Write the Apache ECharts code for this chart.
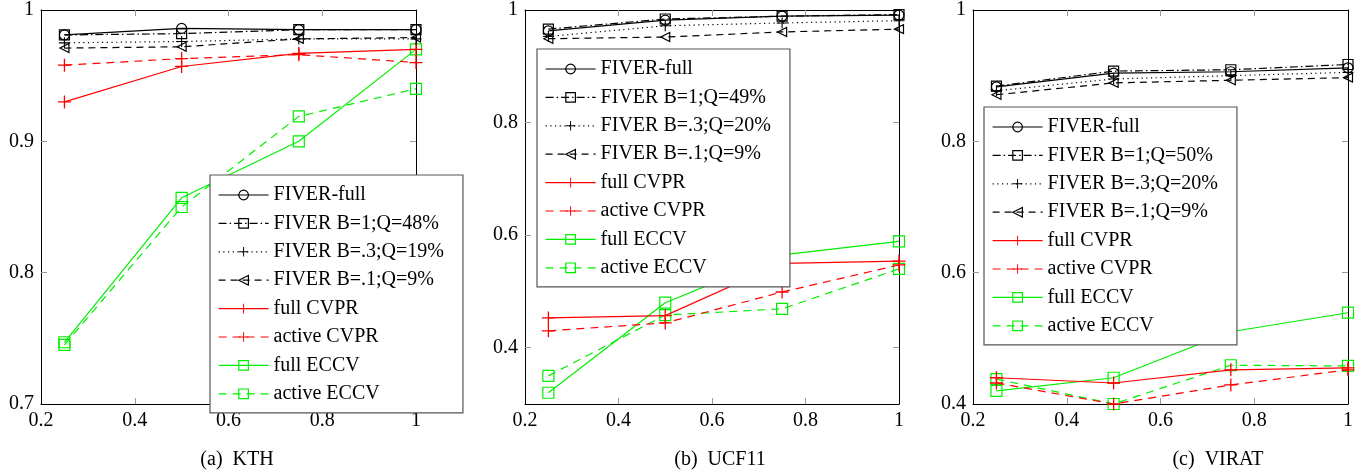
<!DOCTYPE html>
<html>
<head>
<meta charset="utf-8">
<script src="https://cdn.jsdelivr.net/npm/echarts@6/dist/echarts.min.js"></script>
<style>
  html, body { margin: 0; padding: 0; background: #fff; }
  #chart { width: 1370px; height: 475px; }
</style>
</head>
<body>
<div id="chart"></div>
<script>
// x 轴上的采样点
const xValues = [0.25, 0.5, 0.75, 1];
const xTickLabels = [0.2, 0.4, 0.6, 0.8, 1];

// (a) KTH
const kthNames = ["FIVER-full", "FIVER B=1;Q=48%", "FIVER B=.3;Q=19%", "FIVER B=.1;Q=9%",
  "full CVPR", "active CVPR", "full ECCV", "active ECCV"];
const kthFiverFull = [0.981, 0.986, 0.985, 0.985];
const kthB1 = [0.981, 0.982, 0.985, 0.985];
const kthB03 = [0.975, 0.976, 0.978, 0.978];
const kthB01 = [0.971, 0.972, 0.978, 0.979];
const kthFullCvpr = [0.930, 0.957, 0.967, 0.970];
const kthActiveCvpr = [0.958, 0.963, 0.966, 0.960];
const kthFullEccv = [0.747, 0.857, 0.900, 0.970];
const kthActiveEccv = [0.745, 0.850, 0.919, 0.940];
const kthYTicks = [0.7, 0.8, 0.9, 1];

// (b) UCF11
const ucfNames = ["FIVER-full", "FIVER B=1;Q=49%", "FIVER B=.3;Q=20%", "FIVER B=.1;Q=9%",
  "full CVPR", "active CVPR", "full ECCV", "active ECCV"];
const ucfFiverFull = [0.963, 0.982, 0.989, 0.991];
const ucfB1 = [0.966, 0.984, 0.989, 0.992];
const ucfB03 = [0.953, 0.972, 0.977, 0.981];
const ucfB01 = [0.949, 0.952, 0.961, 0.966];
const ucfFullCvpr = [0.453, 0.457, 0.550, 0.554];
const ucfActiveCvpr = [0.430, 0.444, 0.499, 0.547];
const ucfFullEccv = [0.320, 0.480, 0.565, 0.589];
const ucfActiveEccv = [0.350, 0.458, 0.469, 0.540];
const ucfYTicks = [0.4, 0.6, 0.8, 1];

// (c) VIRAT
const viratNames = ["FIVER-full", "FIVER B=1;Q=50%", "FIVER B=.3;Q=20%", "FIVER B=.1;Q=9%",
  "full CVPR", "active CVPR", "full ECCV", "active ECCV"];
const viratFiverFull = [0.883, 0.904, 0.906, 0.912];
const viratB1 = [0.884, 0.907, 0.909, 0.917];
const viratB03 = [0.877, 0.895, 0.900, 0.905];
const viratB01 = [0.871, 0.889, 0.893, 0.897];
const viratFullCvpr = [0.440, 0.432, 0.452, 0.455];
const viratActiveCvpr = [0.432, 0.400, 0.429, 0.452];
const viratFullEccv = [0.420, 0.440, 0.510, 0.539];
const viratActiveEccv = [0.438, 0.400, 0.459, 0.458];
const viratYTicks = [0.4, 0.6, 0.8, 1];

const captions = ["(a)  KTH", "(b)  UCF11", "(c)  VIRAT"];

const FONT = "Liberation Serif";
const FONT_SIZE = 20;
const PLUS = "path://M-0.6,-6H0.6V-0.6H6V0.6H0.6V6H-0.6V0.6H-6V-0.6H-0.6Z";
const TRI_LEFT = "path://M0,5L8.6,0L8.6,10Z";

// 每条曲线的样式（顺序与名字一致）
const styles = [
  { color: "#000", dash: "solid", symbol: "circle", size: 10, hollow: true },
  { color: "#000", dash: [8, 3, 1.5, 3], symbol: "rect", size: 10, hollow: true },
  { color: "#000", dash: [1.2, 3.5], symbol: PLUS, size: 11, hollow: false },
  { color: "#000", dash: [7, 5], symbol: TRI_LEFT, size: 9, hollow: true },
  { color: "#ff0000", dash: "solid", symbol: PLUS, size: 13, hollow: false },
  { color: "#ff0000", dash: [8, 6], symbol: PLUS, size: 13, hollow: false },
  { color: "#00ee00", dash: "solid", symbol: "rect", size: 11, hollow: true },
  { color: "#00ee00", dash: [8, 6], symbol: "rect", size: 11, hollow: true },
];

const panels = [
  { names: kthNames, data: [kthFiverFull, kthB1, kthB03, kthB01, kthFullCvpr, kthActiveCvpr, kthFullEccv, kthActiveEccv],
    yMin: 0.7, yTicks: kthYTicks, grid: { left: 41, top: 10, width: 375, height: 394 },
    legend: { left: 210, top: 175 }, captionX: 237 },
  { names: ucfNames, data: [ucfFiverFull, ucfB1, ucfB03, ucfB01, ucfFullCvpr, ucfActiveCvpr, ucfFullEccv, ucfActiveEccv],
    yMin: 0.3, yTicks: ucfYTicks, grid: { left: 525, top: 10, width: 374, height: 394 },
    legend: { left: 537, top: 49 }, captionX: 720 },
  { names: viratNames, data: [viratFiverFull, viratB1, viratB03, viratB01, viratFullCvpr, viratActiveCvpr, viratFullEccv, viratActiveEccv],
    yMin: 0.4, yTicks: viratYTicks, grid: { left: 973, top: 10, width: 375, height: 394 },
    legend: { left: 984, top: 107 }, captionX: 1218 },
];

const fmt = (v) => String(Math.round(v * 10) / 10);

function 轴(gridIndex, position, min, max, ticks, labels) {
  const inner = ticks.filter((t) => t > min + 1e-9 && t < max - 1e-9);
  return {
    type: "value",
    gridIndex: gridIndex,
    position: position,
    min: min,
    max: max,
    axisLine: { show: true, onZero: false, lineStyle: { color: "#000", width: 1 } },
    axisTick: { show: true, inside: true, length: 6, customValues: inner, lineStyle: { color: "#999" } },
    axisLabel: {
      show: labels,
      customValues: ticks,
      formatter: fmt,
      fontFamily: FONT,
      fontSize: FONT_SIZE,
      color: "#000",
      margin: 7,
    },
    splitLine: { show: false },
  };
}

const grids = [];
const xAxes = [];
const yAxes = [];
const legends = [];
const series = [];
const graphics = [];

panels.forEach((p, gi) => {
  grids.push(p.grid);
  xAxes.push(轴(gi, "bottom", 0.2, 1, xTickLabels, true));
  xAxes.push(轴(gi, "top", 0.2, 1, xTickLabels, false));
  yAxes.push(轴(gi, "left", p.yMin, 1, p.yTicks, true));
  yAxes.push(轴(gi, "right", p.yMin, 1, p.yTicks, false));

  p.names.forEach((name, si) => {
    const s = styles[si];
    series.push({
      type: "line",
      name: name,
      xAxisIndex: gi * 2,
      yAxisIndex: gi * 2,
      data: xValues.map((x, i) => [x, p.data[si][i]]),
      symbol: s.symbol,
      symbolSize: s.size,
      showAllSymbol: true,
      clip: false,
      z: 3 + (8 - si) * 0.01,
      lineStyle: { color: s.color, width: 1.2, type: s.dash },
      itemStyle: {
        color: s.hollow ? "rgba(255,255,255,0)" : s.color,
        borderColor: s.color,
        borderWidth: s.hollow ? 1.2 : 0,
      },
      emphasis: { disabled: true },
      animation: false,
    });
  });

  legends.push({
    orient: "vertical",
    left: p.legend.left,
    top: p.legend.top,
    data: p.names.map((n, si) => ({
      name: n,
      itemStyle: { borderWidth: styles[si].hollow ? 1.2 : 0 },
      lineStyle: { width: 1.2 },
    })),
    itemWidth: 50,
    itemHeight: 12,
    itemGap: 8.4,
    padding: [10, 19, 9, 8],
    backgroundColor: "#fff",
    borderColor: "#555",
    borderWidth: 1.2,
    selectedMode: false,
    z: 20,
    textStyle: { fontFamily: FONT, fontSize: FONT_SIZE, color: "#000", lineHeight: 18 },
  });

  graphics.push({
    type: "text",
    x: p.captionX,
    y: 460,
    style: {
      text: captions[gi],
      fontFamily: FONT,
      fontSize: FONT_SIZE,
      fill: "#000",
      textAlign: "center",
      textVerticalAlign: "middle",
    },
  });
});

const myChart = echarts.init(document.getElementById("chart"), null, { renderer: "canvas" });
myChart.setOption({
  animation: false,
  backgroundColor: "#fff",
  grid: grids,
  xAxis: xAxes,
  yAxis: yAxes,
  legend: legends,
  series: series,
  graphic: graphics,
});
</script>
</body>
</html>
